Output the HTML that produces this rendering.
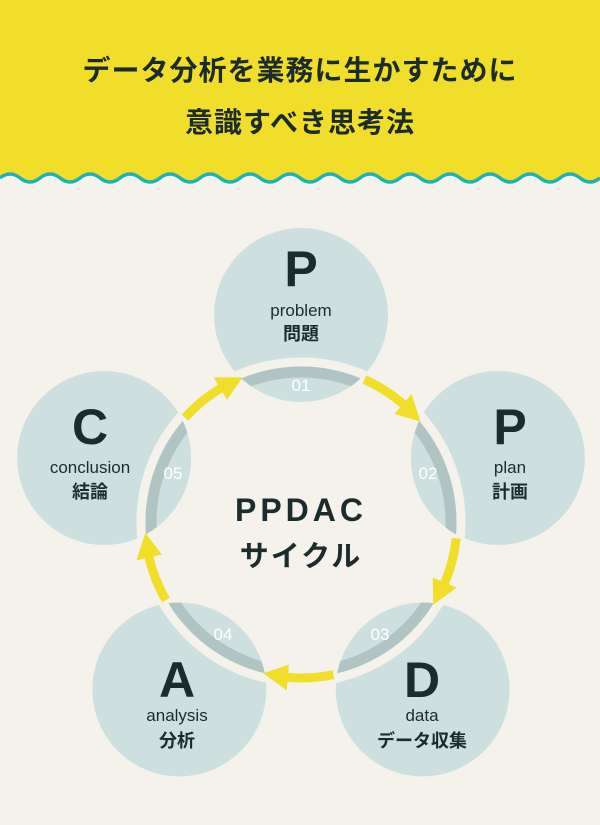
<!DOCTYPE html>
<html><head><meta charset="utf-8"><style>
html,body{margin:0;padding:0;background:#f5f2ec;}
svg{display:block;}
text{font-family:"Liberation Sans","Noto Sans CJK JP",sans-serif;fill:#1c2b2b;}
.jp{font-weight:700;}
</style></head><body>
<svg id="s" width="600" height="825" viewBox="0 0 600 825" xmlns="http://www.w3.org/2000/svg">
<rect width="600" height="825" fill="#f5f2ec"/>
<path id="hdr" fill="#f0de2a"/>
<path id="wave" fill="none" stroke="#19b3b8" stroke-width="3.5"/>
<text x="300" y="80" text-anchor="middle" font-size="28" class="jp" letter-spacing="1">データ分析を業務に生かすために</text>
<text x="300" y="132" text-anchor="middle" font-size="28" class="jp" letter-spacing="1">意識すべき思考法</text>
<defs><clipPath id="cc"></clipPath></defs>
<g id="circles"></g>
<circle cx="301" cy="522" r="160" fill="none" stroke="#f5f2ec" stroke-width="9"/>
<circle cx="301" cy="522" r="150" fill="none" stroke="#b0c4c3" stroke-width="11" clip-path="url(#cc)"/>
<g id="arrows"></g>
<g font-size="17" fill="#fff" text-anchor="middle">
<text x="301" y="391" style="fill:#fff">01</text>
<text x="428" y="479" style="fill:#fff">02</text>
<text x="380" y="640" style="fill:#fff">03</text>
<text x="223" y="640" style="fill:#fff">04</text>
<text x="173" y="479" style="fill:#fff">05</text>
</g>
<g text-anchor="middle">
<text x="301" y="286" font-size="50" font-weight="700">P</text>
<text x="301" y="316" font-size="17">problem</text>
<text x="301" y="340" font-size="18" class="jp">問題</text>
<text x="510" y="444" font-size="50" font-weight="700">P</text>
<text x="510" y="473" font-size="17">plan</text>
<text x="510" y="498" font-size="18" class="jp">計画</text>
<text x="90" y="444" font-size="50" font-weight="700">C</text>
<text x="90" y="473" font-size="17">conclusion</text>
<text x="90" y="498" font-size="18" class="jp">結論</text>
<text x="177" y="697" font-size="50" font-weight="700">A</text>
<text x="177" y="721" font-size="17">analysis</text>
<text x="177" y="747" font-size="18" class="jp">分析</text>
<text x="422" y="697" font-size="50" font-weight="700">D</text>
<text x="422" y="721" font-size="17">data</text>
<text x="422" y="747" font-size="18" class="jp">データ収集</text>
<text x="301" y="521" font-size="32" font-weight="700" letter-spacing="4">PPDAC</text>
<text x="301" y="566" font-size="29" class="jp" letter-spacing="2">サイクル</text>
</g>
</svg>
<script>
(function(){
var NS="http://www.w3.org/2000/svg";
var d="M0 178";
for(var x=0;x<600;x+=40){d+=" Q"+(x+10)+" 170 "+(x+20)+" 178 Q"+(x+30)+" 186 "+(x+40)+" 178";}
var hd="M0 0 H600 V178";
for(var x=600;x>0;x-=40){hd+=" Q"+(x-10)+" 186 "+(x-20)+" 178 Q"+(x-30)+" 170 "+(x-40)+" 178";}
hd+=" Z";
document.getElementById("hdr").setAttribute("d",hd);
document.getElementById("wave").setAttribute("d",d);
var cx=301,cy=522,R=207,r=87;
var g=document.getElementById("circles"),cg=document.getElementById("cc"),ag=document.getElementById("arrows");
function mk(t,a,p){var e=document.createElementNS(NS,t);for(var k in a)e.setAttribute(k,a[k]);p.appendChild(e);return e;}
for(var i=0;i<5;i++){
 var a=(-90+72*i)*Math.PI/180;
 var x=cx+R*Math.cos(a),y=cy+R*Math.sin(a);
 mk("circle",{cx:x,cy:y,r:r,fill:"#cde0df"},g);
 mk("circle",{cx:x,cy:y,r:r},cg);
 var ar=156;
 var a1=(-90+72*i+24)*Math.PI/180,a2=(-90+72*i+42)*Math.PI/180,a3=(-90+72*i+50)*Math.PI/180;
 var p1=[cx+ar*Math.cos(a1),cy+ar*Math.sin(a1)],p2=[cx+ar*Math.cos(a2),cy+ar*Math.sin(a2)];
 mk("path",{d:"M"+p1+" A"+ar+" "+ar+" 0 0 1 "+p2,fill:"none",stroke:"#f0de2a","stroke-width":9},ag);
 var tip=[cx+ar*Math.cos(a3),cy+ar*Math.sin(a3)];
 var b1=[cx+(ar-13)*Math.cos(a2-0.02),cy+(ar-13)*Math.sin(a2-0.02)];
 var b2=[cx+(ar+13)*Math.cos(a2-0.02),cy+(ar+13)*Math.sin(a2-0.02)];
 mk("polygon",{points:tip+" "+b1+" "+b2,fill:"#f0de2a"},ag);
}
})();
</script>
</body></html>
